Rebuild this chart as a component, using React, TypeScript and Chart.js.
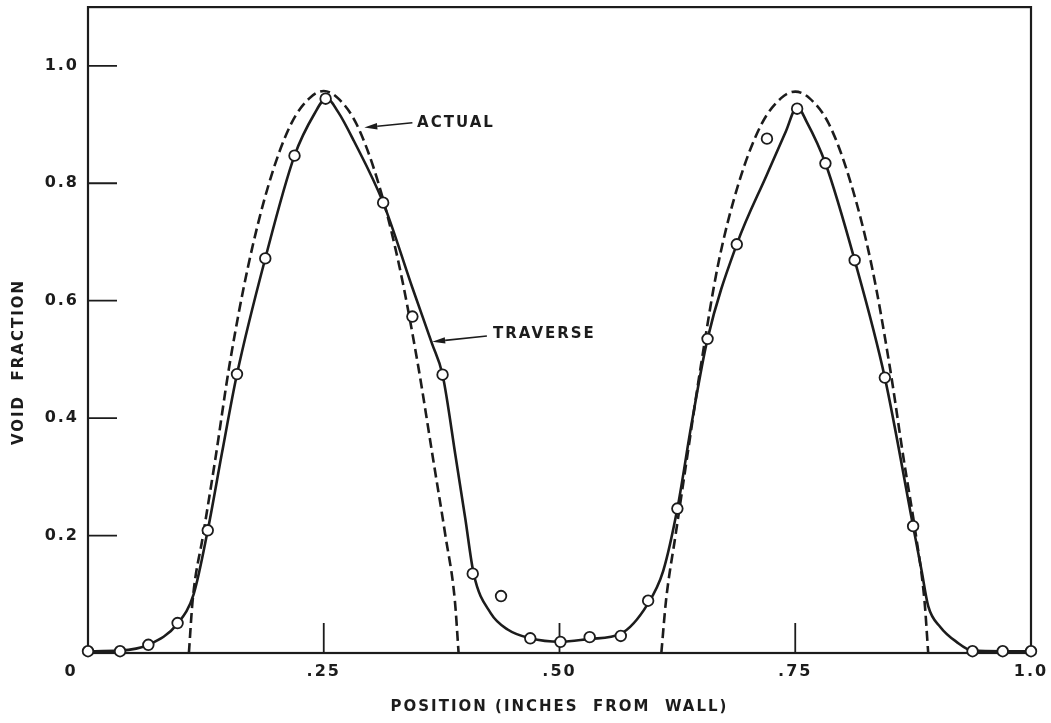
import React, { useEffect, useRef } from 'react';
import { Chart, registerables } from 'chart.js';

Chart.register(...registerables);

// ---- measured points (circles) ----
const pointX = [0.000, 0.034, 0.064, 0.095, 0.127, 0.158, 0.188, 0.219, 0.252, 0.313, 0.344, 0.376, 0.408, 0.438, 0.469, 0.501, 0.532, 0.565, 0.594, 0.625, 0.657, 0.688, 0.720, 0.752, 0.782, 0.813, 0.845, 0.875, 0.938, 0.970, 1.000];
const pointY = [0.003, 0.003, 0.014, 0.051, 0.209, 0.475, 0.672, 0.847, 0.944, 0.767, 0.573, 0.474, 0.135, 0.097, 0.025, 0.019, 0.027, 0.029, 0.089, 0.246, 0.535, 0.696, 0.876, 0.927, 0.834, 0.669, 0.469, 0.216, 0.003, 0.003, 0.003];

// ---- traverse (solid) curve ----
const traverseX = [0.000, 0.034, 0.064, 0.095, 0.112, 0.127, 0.142, 0.158, 0.188, 0.219, 0.240, 0.253, 0.265, 0.282, 0.313, 0.344, 0.365, 0.376, 0.390, 0.400, 0.409, 0.427, 0.445, 0.469, 0.501, 0.532, 0.565, 0.593, 0.610, 0.625, 0.640, 0.657, 0.688, 0.720, 0.740, 0.752, 0.762, 0.782, 0.813, 0.845, 0.875, 0.884, 0.891, 0.904, 0.921, 0.938, 0.970, 1.000];
const traverseY = [0.003, 0.004, 0.014, 0.050, 0.100, 0.209, 0.340, 0.475, 0.672, 0.847, 0.918, 0.945, 0.922, 0.872, 0.767, 0.622, 0.526, 0.474, 0.333, 0.230, 0.135, 0.068, 0.040, 0.025, 0.019, 0.024, 0.033, 0.082, 0.140, 0.246, 0.390, 0.535, 0.696, 0.815, 0.888, 0.930, 0.905, 0.834, 0.669, 0.469, 0.216, 0.140, 0.080, 0.044, 0.019, 0.004, 0.003, 0.003];

// ---- actual (dashed) profiles ----
const actualLeftX = [0.107, 0.111, 0.122, 0.135, 0.150, 0.170, 0.192, 0.215, 0.235, 0.250, 0.265, 0.285, 0.308, 0.330, 0.350, 0.366, 0.379, 0.389, 0.393];
const actualLeftY = [0.000, 0.090, 0.200, 0.330, 0.490, 0.660, 0.800, 0.900, 0.945, 0.957, 0.945, 0.900, 0.800, 0.660, 0.490, 0.330, 0.200, 0.090, 0.000];
const actualRightX = [0.608, 0.613, 0.623, 0.635, 0.650, 0.668, 0.690, 0.714, 0.735, 0.750, 0.765, 0.786, 0.809, 0.831, 0.850, 0.865, 0.878, 0.887, 0.891];
const actualRightY = [0.000, 0.090, 0.200, 0.330, 0.490, 0.660, 0.800, 0.900, 0.945, 0.956, 0.945, 0.900, 0.800, 0.660, 0.490, 0.330, 0.200, 0.090, 0.000];

// ---- ticks ----
const xTickValues = [0.25, 0.5, 0.75, 1.0];
const xTickLabels = ['.25', '.50', '.75', '1.0'];
const xTickMarks = [0.25, 0.5, 0.75];
const yTickValues = [0.2, 0.4, 0.6, 0.8, 1.0];
const yTickLabels = ['0.2', '0.4', '0.6', '0.8', '1.0'];
const originLabel = '0';

// ---- annotations ----
const labelTexts = ['ACTUAL', 'TRAVERSE'];
const labelX = [0.349, 0.4295];
const labelY = [0.903, 0.543];
const arrowTailX = [0.344, 0.423];
const arrowTailY = [0.903, 0.540];
const arrowTipX = [0.293, 0.365];
const arrowTipY = [0.895, 0.530];

const xTitle = 'POSITION (INCHES  FROM  WALL)';
const yTitle = 'VOID  FRACTION';

const INK = '#1c1c1c';
const FAMILY = '"DejaVu Sans", sans-serif';

const zip = (xs: number[], ys: number[]) => xs.map((x, i) => ({ x, y: ys[i] }));

function drawArrow(ctx: CanvasRenderingContext2D, x1: number, y1: number, x2: number, y2: number) {
  const ang = Math.atan2(y2 - y1, x2 - x1);
  const len = 13;
  const hw = 3.2;
  const bx = x2 - Math.cos(ang) * len;
  const by = y2 - Math.sin(ang) * len;
  ctx.beginPath();
  ctx.moveTo(x1, y1);
  ctx.lineTo(bx, by);
  ctx.lineWidth = 1.6;
  ctx.stroke();
  ctx.beginPath();
  ctx.moveTo(x2, y2);
  ctx.lineTo(bx - Math.sin(ang) * hw, by + Math.cos(ang) * hw);
  ctx.lineTo(bx + Math.sin(ang) * hw, by - Math.cos(ang) * hw);
  ctx.closePath();
  ctx.fill();
}

const paperPlugin = {
  id: 'paper',
  beforeDraw(chart: any) {
    const ctx = chart.ctx as CanvasRenderingContext2D;
    ctx.save();
    ctx.fillStyle = '#ffffff';
    ctx.fillRect(0, 0, chart.width, chart.height);
    ctx.restore();
    (ctx as any).letterSpacing = '2px';
  },
  beforeDatasetsDraw(chart: any) {
    const ctx = chart.ctx as CanvasRenderingContext2D;
    const a = chart.chartArea;
    const xs = chart.scales.x;
    const ys = chart.scales.y;
    ctx.save();
    ctx.strokeStyle = INK;
    ctx.lineWidth = 2.2;
    ctx.strokeRect(a.left, a.top, a.right - a.left, a.bottom - a.top);
    ctx.lineWidth = 1.8;
    ctx.beginPath();
    yTickValues.forEach((v) => {
      const py = ys.getPixelForValue(v);
      ctx.moveTo(a.left, py);
      ctx.lineTo(a.left + 29, py);
    });
    xTickMarks.forEach((v) => {
      const px = xs.getPixelForValue(v);
      ctx.moveTo(px, a.bottom);
      ctx.lineTo(px, a.bottom - 30);
    });
    ctx.stroke();
    ctx.restore();
  },
  afterDraw(chart: any) {
    const ctx = chart.ctx as CanvasRenderingContext2D;
    const xs = chart.scales.x;
    const ys = chart.scales.y;
    ctx.save();
    (ctx as any).letterSpacing = '2px';
    ctx.fillStyle = INK;
    ctx.strokeStyle = INK;
    // origin label
    ctx.font = `bold 16px ${FAMILY}`;
    ctx.textAlign = 'center';
    ctx.textBaseline = 'middle';
    ctx.fillText(originLabel, xs.getPixelForValue(0) - 17, ys.getPixelForValue(0) + 19);
    // annotations
    ctx.font = `bold 15px ${FAMILY}`;
    ctx.textAlign = 'left';
    labelTexts.forEach((t, i) => {
      drawArrow(ctx, xs.getPixelForValue(arrowTailX[i]), ys.getPixelForValue(arrowTailY[i]),
        xs.getPixelForValue(arrowTipX[i]), ys.getPixelForValue(arrowTipY[i]));
      ctx.fillText(t, xs.getPixelForValue(labelX[i]), ys.getPixelForValue(labelY[i]));
    });
    // axis titles
    ctx.textAlign = 'center';
    ctx.fillText(xTitle, (chart.chartArea.left + chart.chartArea.right) / 2, 707);
    ctx.translate(19, 362);
    ctx.rotate(-Math.PI / 2);
    ctx.fillText(yTitle, 0, 0);
    ctx.restore();
  },
};

export default function App() {
  const ref = useRef<HTMLCanvasElement | null>(null);
  useEffect(() => {
    document.body.style.margin = '0';
    const canvas = ref.current;
    if (!canvas) return;
    const tickFont = { family: FAMILY, size: 16, weight: 'bold' as const };
    const lineCommon = {
      showLine: true,
      borderColor: INK,
      borderWidth: 2.6,
      pointRadius: 0,
      cubicInterpolationMode: 'monotone' as const,
      clip: false,
    };
    const chart = new Chart(canvas, {
      type: 'scatter',
      data: {
        datasets: [
          {
            label: 'points',
            data: zip(pointX, pointY),
            showLine: false,
            pointRadius: 5.3,
            pointBackgroundColor: '#ffffff',
            pointBorderColor: INK,
            pointBorderWidth: 1.8,
            clip: false,
          } as any,
          { label: 'traverse', data: zip(traverseX, traverseY), ...lineCommon },
          { label: 'actual-left', data: zip(actualLeftX, actualLeftY), ...lineCommon, borderDash: [10, 5] },
          { label: 'actual-right', data: zip(actualRightX, actualRightY), ...lineCommon, borderDash: [10, 5] },
        ],
      },
      options: {
        animation: false,
        responsive: false,
        events: [],
        layout: { padding: { left: 0, right: 20, top: 5, bottom: 0 } },
        plugins: { legend: { display: false }, tooltip: { enabled: false } },
        scales: {
          x: {
            type: 'linear',
            min: 0,
            max: 1.0,
            afterFit: (s: any) => { s.height = 70; s.paddingLeft = 0; s.paddingRight = 0; },
            afterBuildTicks: (s: any) => { s.ticks = xTickValues.map((v) => ({ value: v })); },
            ticks: {
              autoSkip: false,
              maxRotation: 0,
              padding: 9,
              color: INK,
              font: tickFont,
              callback: (v: any) => xTickLabels[xTickValues.indexOf(Number(v))] ?? '',
            },
            grid: { display: false, drawTicks: false },
            border: { display: false },
          },
          y: {
            type: 'linear',
            min: 0,
            max: 1.1,
            afterFit: (s: any) => { s.width = 88; s.paddingTop = 0; s.paddingBottom = 0; },
            afterBuildTicks: (s: any) => { s.ticks = yTickValues.map((v) => ({ value: v })); },
            ticks: {
              autoSkip: false,
              padding: 9,
              color: INK,
              font: tickFont,
              callback: (v: any) => yTickLabels[yTickValues.indexOf(Number(v))] ?? '',
            },
            grid: { display: false, drawTicks: false },
            border: { display: false },
          },
        },
      },
      plugins: [paperPlugin],
    });
    return () => chart.destroy();
  }, []);
  return <canvas ref={ref} width={1051} height={723} style={{ display: 'block' }} />;
}
